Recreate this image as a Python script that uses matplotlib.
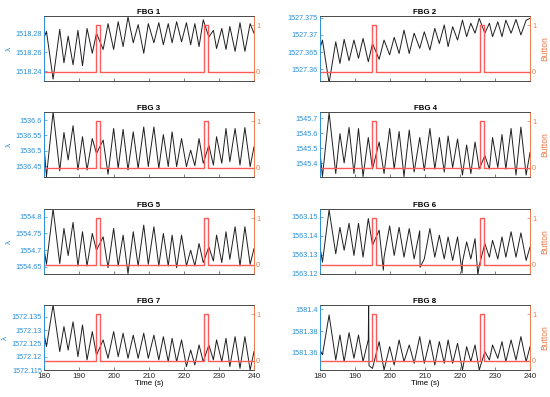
import numpy as np
import matplotlib
matplotlib.use("Agg")
import matplotlib.pyplot as plt
from matplotlib.ticker import FuncFormatter

plt.rcParams['font.family'] = ['Liberation Sans', 'DejaVu Sans']

# times of the turning points of the wavelength traces (s)
t_ext = [180.0, 180.7, 182.6, 184.5, 185.7, 186.9, 188.3, 189.7, 191.0, 192.3,
         193.8, 195.0, 196.9, 198.3, 199.9, 201.2, 202.6, 204.0, 205.5, 206.9,
         208.5, 209.8, 211.4, 212.8, 214.1, 215.5, 216.6, 217.9, 219.3, 220.7,
         221.9, 223.1, 224.3, 225.5, 227.1, 228.4, 229.3, 230.8, 232.0, 233.1,
         234.6, 236.0, 237.4, 238.9, 240.0]

fbg1 = [1518.275, 1518.282, 1518.232, 1518.284, 1518.249, 1518.277, 1518.247, 1518.283, 1518.246, 1518.285,
        1518.259, 1518.280, 1518.263, 1518.290, 1518.263, 1518.292, 1518.266, 1518.297, 1518.270, 1518.289,
        1518.259, 1518.290, 1518.270, 1518.291, 1518.268, 1518.290, 1518.270, 1518.292, 1518.271, 1518.291,
        1518.268, 1518.290, 1518.266, 1518.294, 1518.276, 1518.283, 1518.264, 1518.285, 1518.263, 1518.287,
        1518.261, 1518.291, 1518.261, 1518.290, 1518.280]
fbg2 = [1527.3661, 1527.3685, 1527.3560, 1527.3680, 1527.3617, 1527.3687, 1527.3625, 1527.3685, 1527.3632, 1527.3690,
        1527.3622, 1527.3675, 1527.3629, 1527.3685, 1527.3642, 1527.3693, 1527.3646, 1527.3714, 1527.3646, 1527.3705,
        1527.3661, 1527.3709, 1527.3656, 1527.3719, 1527.3675, 1527.3729, 1527.3666, 1527.3724, 1527.3685, 1527.3743,
        1527.3695, 1527.3734, 1527.3705, 1527.3748, 1527.3705, 1527.3734, 1527.3695, 1527.3738, 1527.3695, 1527.3743,
        1527.3705, 1527.3745, 1527.3700, 1527.3743, 1527.3748]
fbg3 = [1536.518, 1536.415, 1536.627, 1536.434, 1536.560, 1536.470, 1536.582, 1536.437, 1536.546, 1536.437,
        1536.540, 1536.491, 1536.535, 1536.423, 1536.573, 1536.442, 1536.570, 1536.437, 1536.562, 1536.442,
        1536.578, 1536.448, 1536.578, 1536.442, 1536.553, 1536.448, 1536.562, 1536.448, 1536.540, 1536.448,
        1536.502, 1536.451, 1536.540, 1536.459, 1536.518, 1536.453, 1536.546, 1536.459, 1536.573, 1536.464,
        1536.573, 1536.453, 1536.576, 1536.448, 1536.513]
fbg4 = [1545.47, 1545.31, 1545.735, 1545.33, 1545.596, 1545.40, 1545.637, 1545.33, 1545.63, 1545.31,
        1545.57, 1545.36, 1545.54, 1545.33, 1545.63, 1545.36, 1545.61, 1545.31, 1545.62, 1545.34,
        1545.57, 1545.35, 1545.63, 1545.36, 1545.57, 1545.34, 1545.58, 1545.37, 1545.56, 1545.32,
        1545.52, 1545.33, 1545.54, 1545.36, 1545.45, 1545.36, 1545.57, 1545.37, 1545.59, 1545.36,
        1545.63, 1545.32, 1545.64, 1545.32, 1545.47]
fbg5 = [1554.705, 1554.658, 1554.823, 1554.660, 1554.765, 1554.684, 1554.783, 1554.653, 1554.755, 1554.653,
        1554.750, 1554.700, 1554.740, 1554.648, 1554.765, 1554.653, 1554.745, 1554.630, 1554.755, 1554.653,
        1554.775, 1554.658, 1554.770, 1554.653, 1554.750, 1554.653, 1554.745, 1554.648, 1554.745, 1554.653,
        1554.700, 1554.653, 1554.720, 1554.663, 1554.710, 1554.668, 1554.745, 1554.663, 1554.755, 1554.673,
        1554.770, 1554.653, 1554.770, 1554.658, 1554.705]
fbg6 = [1563.1341, 1563.1262, 1563.1535, 1563.1306, 1563.1444, 1563.1324, 1563.1465, 1563.1297, 1563.1465, 1563.1288,
        1563.1490, 1563.1350, 1563.1429, 1563.1288, 1563.1451, 1563.1297, 1563.1444, 1563.1288, 1563.1438, 1563.1279,
        1563.1426, 1563.1279, 1563.1438, 1563.1288, 1563.1403, 1563.1279, 1563.1394, 1563.1271, 1563.1394, 1563.1262,
        1563.1368, 1563.1279, 1563.1385, 1563.1244, 1563.1359, 1563.1288, 1563.1376, 1563.1279, 1563.1394, 1563.1288,
        1563.1421, 1563.1288, 1563.1415, 1563.1271, 1563.1341]
fbg7 = [1572.1288, 1572.1238, 1572.1394, 1572.1219, 1572.1313, 1572.1225, 1572.1331, 1572.1200, 1572.1319, 1572.1188,
        1572.1294, 1572.1206, 1572.1263, 1572.1194, 1572.1294, 1572.1200, 1572.1288, 1572.1194, 1572.1281, 1572.1194,
        1572.1288, 1572.1194, 1572.1281, 1572.1188, 1572.1275, 1572.1181, 1572.1269, 1572.1181, 1572.1263, 1572.1163,
        1572.1225, 1572.1169, 1572.1244, 1572.1181, 1572.1244, 1572.1188, 1572.1263, 1572.1181, 1572.1269, 1572.1163,
        1572.1275, 1572.1156, 1572.1275, 1572.1150, 1572.1219]
fbg8 = [1581.3625, 1581.3580, 1581.3948, 1581.3532, 1581.3763, 1581.3517, 1581.3785, 1581.3548, 1581.3763, 1581.3517,
        1581.3720, 1581.3455, 1581.3702, 1581.3440, 1581.3655, 1581.3486, 1581.3717, 1581.3517, 1581.3671, 1581.3502,
        1581.3748, 1581.3502, 1581.3717, 1581.3486, 1581.3702, 1581.3502, 1581.3717, 1581.3502, 1581.3686, 1581.3440,
        1581.3655, 1581.3517, 1581.3671, 1581.3440, 1581.3609, 1581.3532, 1581.3671, 1581.3548, 1581.3702, 1581.3517,
        1581.3717, 1581.3532, 1581.3748, 1581.3517, 1581.3655]

# short glitches (time, value)
spikes6 = [(198.1, 1563.1220), (208.6, 1563.1235), (220.6, 1563.1205), (225.1, 1563.1195)]
spikes8 = [(193.9, 1581.4040), (194.0, 1581.3480)]

# button signal
btn_t = [180.0, 194.9, 194.9, 195.9, 195.9, 225.7, 225.7, 226.8, 226.8, 240.0]
btn_v = [0, 0, 1, 1, 0, 0, 1, 1, 0, 0]

names = ['FBG 1', 'FBG 2', 'FBG 3', 'FBG 4', 'FBG 5', 'FBG 6', 'FBG 7', 'FBG 8']
traces = [fbg1, fbg2, fbg3, fbg4, fbg5, fbg6, fbg7, fbg8]
extras = [[], [], [], [], [], spikes6, [], spikes8]
ylims = [(1518.230, 1518.298), (1527.3566, 1527.3755), (1536.414, 1536.627), (1545.307, 1545.74),
         (1554.629, 1554.823), (1563.12, 1563.154), (1572.115, 1572.1394), (1581.344, 1581.404)]
yticks = [[1518.24, 1518.26, 1518.28],
          [1527.36, 1527.365, 1527.37, 1527.375],
          [1536.45, 1536.5, 1536.55, 1536.6],
          [1545.4, 1545.5, 1545.6, 1545.7],
          [1554.65, 1554.7, 1554.75, 1554.8],
          [1563.12, 1563.13, 1563.14, 1563.15],
          [1572.115, 1572.12, 1572.125, 1572.13, 1572.135],
          [1581.36, 1581.38, 1581.4]]

blue = '#2b8fd6'
orange = '#ef7a4c'
red = '#ff5a5a'
frame = '#4a4a4a'

fmt = FuncFormatter(lambda v, p: ('%.4f' % v).rstrip('0').rstrip('.'))

fig = plt.figure(figsize=(5.5, 3.97), dpi=100)
W, H = 550.0, 397.0
col_x = [44, 320]
row_top = [16, 112, 209, 305]

for i in range(8):
    r, c = divmod(i, 2)
    ax = fig.add_axes([col_x[c] / W, 1 - (row_top[r] + 65) / H, 210 / W, 65 / H])

    pts = sorted(list(zip(t_ext, traces[i])) + extras[i])
    tt = [p[0] for p in pts]
    vv = [p[1] for p in pts]
    ax.plot(tt, vv, color='#1e1e1e', lw=0.7)
    ax.set_xlim(180, 240)
    ax.set_ylim(*ylims[i])
    ax.set_yticks(yticks[i])
    ax.yaxis.set_major_formatter(fmt)
    ax.set_xticks([180, 190, 200, 210, 220, 230, 240])
    ax.tick_params(axis='y', colors=blue, labelsize=5.2, direction='in', length=2, width=0.5, pad=1.5)
    ax.tick_params(axis='x', colors=frame, labelcolor='#262626', labelsize=5.7, direction='in',
                   length=2, width=0.5, pad=2)
    ax.set_title(names[i], fontsize=5.7, fontweight='bold', pad=1.5)
    if r < 3:
        ax.set_xticklabels([])
    else:
        ax.set_xlabel('Time (s)', fontsize=5.7, labelpad=0.5)
    if c == 0:
        ax.set_ylabel('λ', color=blue, fontsize=6, labelpad=2)

    ax2 = ax.twinx()
    ax2.plot(btn_t, btn_v, color=red, lw=1.0)
    ax2.set_ylim(-0.2, 1.2)
    ax2.set_yticks([0, 1])
    ax2.tick_params(axis='y', colors=orange, labelsize=5.2, direction='in', length=2, width=0.5, pad=1.5)
    if c == 1:
        ax2.set_ylabel('Button', color=orange, fontsize=6.2, labelpad=3)

    for a in (ax, ax2):
        a.spines['top'].set_color(frame)
        a.spines['bottom'].set_color(frame)
        a.spines['left'].set_color(blue)
        a.spines['right'].set_color(orange)
        for s in a.spines.values():
            s.set_linewidth(0.6)

fig.savefig('out.png', dpi=100)
